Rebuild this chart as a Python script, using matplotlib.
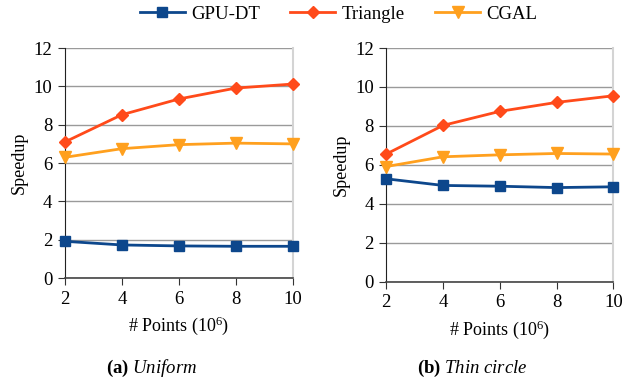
import matplotlib
matplotlib.use("Agg")
import matplotlib.pyplot as plt

plt.rcParams['font.family'] = ['Liberation Serif', 'DejaVu Serif']
plt.rcParams['mathtext.fontset'] = 'custom'
plt.rcParams['mathtext.rm'] = 'Liberation Serif'
plt.rcParams['mathtext.it'] = 'Liberation Serif:italic'
plt.rcParams['mathtext.bf'] = 'Liberation Serif:bold'

# data
points = [2, 4, 6, 8, 10]
series = ['GPU-DT', 'Triangle', 'CGAL']

uniform_gpudt = [1.92, 1.73, 1.68, 1.66, 1.66]
uniform_triangle = [7.1, 8.52, 9.34, 9.91, 10.12]
uniform_cgal = [6.3, 6.75, 6.96, 7.04, 7.0]

circle_gpudt = [5.29, 4.95, 4.91, 4.84, 4.88]
circle_triangle = [6.56, 8.03, 8.75, 9.21, 9.55]
circle_cgal = [5.92, 6.42, 6.52, 6.59, 6.56]

yticks = [0, 2, 4, 6, 8, 10, 12]
captions = [r'$\mathbf{(a)}\ \mathit{Uniform}$', r'$\mathbf{(b)}\ \mathit{Thin\ circle}$']

colors = ['#0d478c', '#ff4a1a', '#ffa01e']
markers = ['s', 'D', 'v']
msizes = [7, 6.5, 8.5]

fig = plt.figure(figsize=(6.24, 3.81), dpi=100)
ax1 = fig.add_axes([0.104, 0.270, 0.365, 0.604])
ax2 = fig.add_axes([0.619, 0.260, 0.364, 0.614])

panels = [(ax1, [uniform_gpudt, uniform_triangle, uniform_cgal]),
          (ax2, [circle_gpudt, circle_triangle, circle_cgal])]

for ax, data in panels:
    for vals, name, c, m, ms in zip(data, series, colors, markers, msizes):
        ax.plot(points, vals, color=c, marker=m, markersize=ms, linewidth=2,
                label=name, clip_on=False, zorder=3)
    ax.set_xlim(2, 10)
    ax.set_ylim(0, 12)
    ax.set_xticks(points)
    ax.set_yticks(yticks)
    ax.grid(axis='y', color='#9a9a9a', linewidth=1)
    ax.set_axisbelow(True)
    ax.spines['top'].set_visible(False)
    ax.spines['right'].set_color('#d4d4d4')
    ax.spines['right'].set_linewidth(1.5)
    ax.spines['left'].set_color('#222222')
    ax.spines['bottom'].set_color('#444444')
    ax.spines['bottom'].set_linewidth(1.2)
    ax.tick_params(labelsize=13.5, length=5, color='#333333', pad=4)
    ax.set_ylabel('Speedup', fontsize=13)
    ax.set_xlabel('# Points (10$^6$)', fontsize=13, labelpad=5)

for ax, cap in zip([ax1, ax2], captions):
    pos = ax.get_position()
    fig.text(pos.x0 + pos.width * 0.38, 0.005, cap, fontsize=13.5, ha='center', va='bottom')

handles, labels = ax1.get_legend_handles_labels()
fig.legend(handles, labels, loc='center', bbox_to_anchor=(0.543, 0.963), ncol=3,
           frameon=False, fontsize=13.5, handlelength=2.4, columnspacing=1.6,
           handletextpad=0.35)

fig.savefig('out.png', dpi=100)
